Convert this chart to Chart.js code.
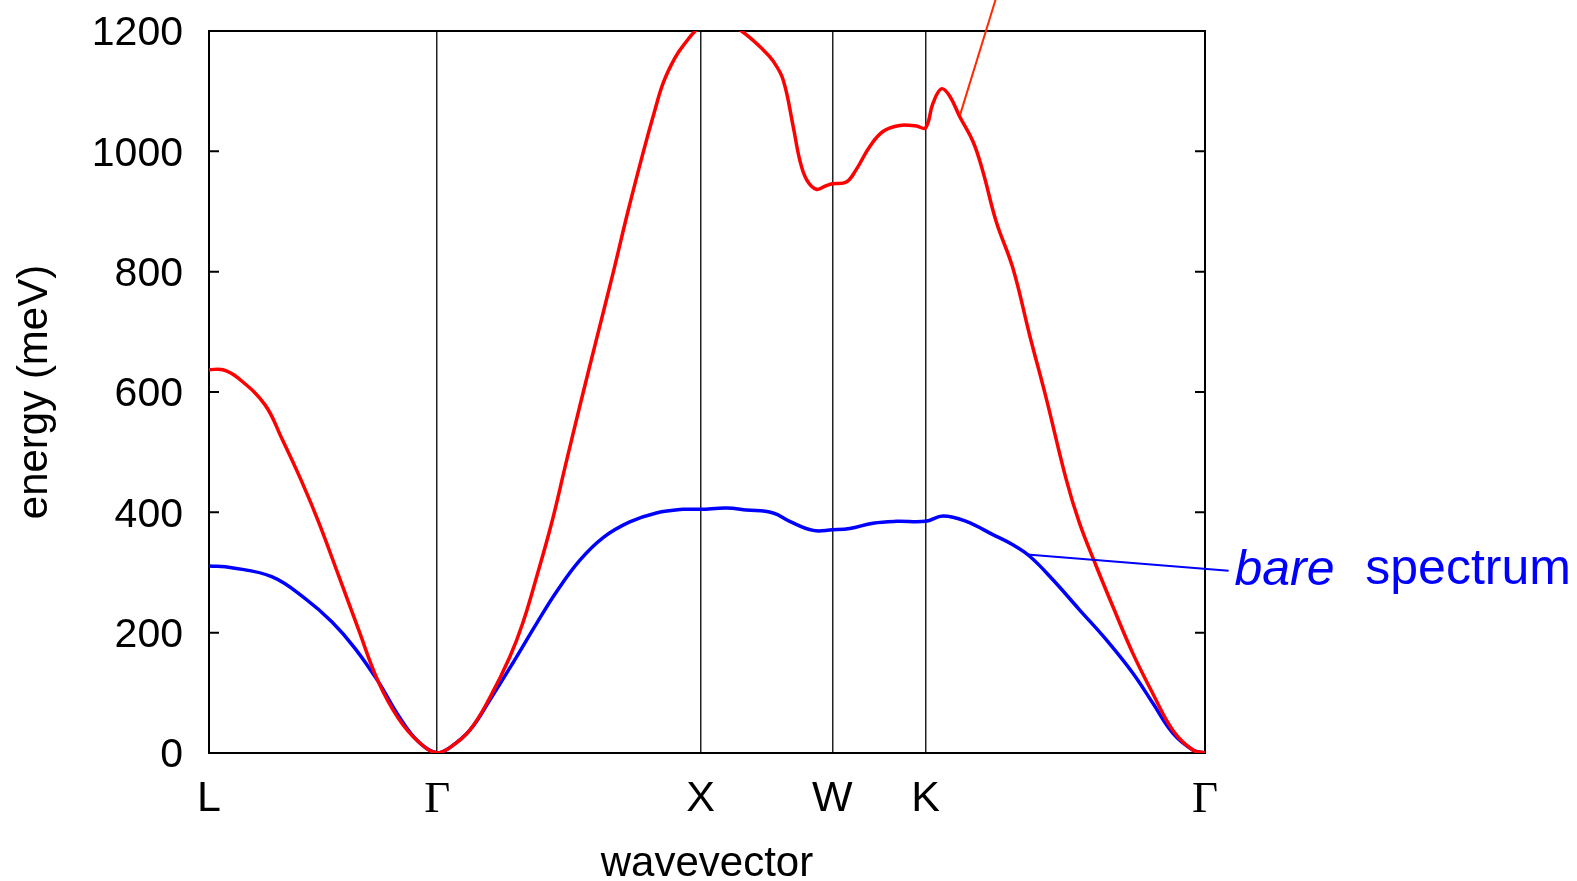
<!DOCTYPE html>
<html>
<head>
<meta charset="utf-8">
<script src="https://cdn.jsdelivr.net/npm/chart.js@4.4.1/dist/chart.umd.min.js"></script>
<style>
  html, body { margin: 0; padding: 0; background: #ffffff; }
</style>
</head>
<body>
<canvas id="myChart" width="1577" height="881"></canvas>
<script>
// symmetry points along the path (units of 2pi/a)
var kPoints = [0, 0.866, 1.866, 2.366, 2.7196, 3.7803];
var kLabels = ["L", "Γ", "X", "W", "K", "Γ"];

// renormalized spectrum (red)
var redK = [0, 0.053, 0.111, 0.212, 0.276, 0.352, 0.415, 0.491, 0.566, 0.642, 0.718, 0.794, 0.866,
  0.914, 0.990, 1.066, 1.142, 1.191, 1.245, 1.301, 1.354, 1.411, 1.472, 1.535, 1.590, 1.649, 1.692, 1.725, 1.768, 1.802, 1.866,
  1.939, 2.021, 2.103, 2.141, 2.179, 2.217, 2.242, 2.268, 2.305, 2.343, 2.366,
  2.419, 2.457, 2.508, 2.558, 2.621, 2.685, 2.7196,
  2.748, 2.780, 2.811, 2.849, 2.900, 2.937, 2.988, 3.051, 3.115, 3.178, 3.254, 3.304, 3.368, 3.431, 3.506, 3.582, 3.658, 3.734, 3.7803];
var redE = [637, 637, 623, 579, 523, 451, 385, 296, 207, 119, 58, 19, 0,
  9, 38, 92, 160, 216, 295, 383, 480, 583, 690, 800, 900, 1000, 1068, 1115, 1155, 1177, 1208,
  1220, 1200, 1169, 1150, 1119, 1042, 986, 953, 937, 943, 946,
  949, 970, 1008, 1033, 1043, 1042, 1039,
  1080, 1104, 1092, 1058, 1016, 967, 883, 806, 694, 589, 454, 382, 310, 243, 166, 99, 38, 5, 0];

// bare spectrum (blue)
var blueK = [0, 0.086, 0.238, 0.364, 0.466, 0.554, 0.642, 0.718, 0.794, 0.866,
  0.914, 0.990, 1.066, 1.154, 1.243, 1.319, 1.407, 1.496, 1.597, 1.698, 1.799, 1.866,
  1.964, 2.040, 2.141, 2.204, 2.293, 2.366, 2.432, 2.520, 2.609, 2.7196,
  2.786, 2.874, 2.975, 3.051, 3.115, 3.203, 3.304, 3.406, 3.506, 3.582, 3.658, 3.734, 3.7803];
var blueE = [311, 308, 293, 257, 218, 174, 119, 63, 19, 0,
  9, 38, 88, 150, 215, 268, 320, 358, 384, 399, 405, 405,
  407, 404, 399, 385, 370, 371, 373, 382, 385, 385,
  394, 385, 363, 346, 327, 288, 238, 188, 133, 83, 33, 5, 0];

var yMin = 0, yMax = 1200, yStep = 200;

// leader lines and label anchor, in data units
var redLeader = [[2.851, 1061], [3.005, 1280]];
var blueLeader = [[3.105, 330], [3.870, 303]];
var labelAnchor = [3.892, 303];

var sans = "Arial, 'Liberation Sans', sans-serif";
var serif = "'Times New Roman', 'Liberation Serif', serif";

function toPoints(ks, es) {
  return ks.map(function (k, i) { return { x: k, y: es[i] }; });
}

var framePlugin = {
  id: "frame",
  beforeDatasetsDraw: function (chart) {
    var ctx = chart.ctx, a = chart.chartArea, y = chart.scales.y;
    ctx.save();
    ctx.strokeStyle = "#000";
    ctx.lineWidth = 2;
    ctx.strokeRect(a.left, a.top, a.right - a.left, a.bottom - a.top);
    ctx.beginPath();
    y.ticks.forEach(function (t) {
      var py = y.getPixelForValue(t.value);
      ctx.moveTo(a.left, py); ctx.lineTo(a.left + 10, py);
      ctx.moveTo(a.right, py); ctx.lineTo(a.right - 10, py);
    });
    ctx.stroke();
    ctx.restore();
  },
  afterDatasetsDraw: function (chart) {
    var ctx = chart.ctx, x = chart.scales.x, y = chart.scales.y;
    function px(p) { return [x.getPixelForValue(p[0]), y.getPixelForValue(p[1])]; }
    ctx.save();
    ctx.lineWidth = 2;
    var r0 = px(redLeader[0]), r1 = px(redLeader[1]);
    ctx.strokeStyle = "#ff2a00";
    ctx.beginPath(); ctx.moveTo(r0[0], r0[1]); ctx.lineTo(r1[0], r1[1]); ctx.stroke();
    var b0 = px(blueLeader[0]), b1 = px(blueLeader[1]);
    ctx.strokeStyle = "#0000ff";
    ctx.beginPath(); ctx.moveTo(b0[0], b0[1]); ctx.lineTo(b1[0], b1[1]); ctx.stroke();
    // label
    var t = px(labelAnchor);
    ctx.fillStyle = "#0000ff";
    ctx.textBaseline = "middle";
    ctx.textAlign = "left";
    ctx.font = "italic 50px " + sans;
    ctx.fillText("bare", t[0], t[1]);
    var w = ctx.measureText("bare").width;
    ctx.font = "50px " + sans;
    ctx.fillText("spectrum", t[0] + w + ctx.measureText("  ").width + 3, t[1]);
    ctx.restore();
  }
};

new Chart("myChart", {
  type: "line",
  data: {
    datasets: [{
      label: "renormalized",
      data: toPoints(redK, redE),
      borderColor: "#ff0000",
      borderWidth: 3.5,
      pointRadius: 0,
      tension: 0.4,
      fill: false
    }, {
      label: "bare",
      data: toPoints(blueK, blueE),
      borderColor: "#0000ff",
      borderWidth: 3.5,
      pointRadius: 0,
      tension: 0.4,
      fill: false
    }]
  },
  options: {
    responsive: false,
    devicePixelRatio: 1,
    animation: false,
    layout: { padding: { top: 31, right: 372, left: 0, bottom: 0 } },
    plugins: {
      legend: { display: false },
      tooltip: { enabled: false }
    },
    scales: {
      x: {
        type: "linear",
        min: kPoints[0],
        max: kPoints[kPoints.length - 1],
        afterBuildTicks: function (scale) {
          scale.ticks = kPoints.map(function (v) { return { value: v }; });
        },
        afterFit: function (scale) { scale.height = 128; },
        grid: { color: "#222", lineWidth: 1.5, drawTicks: false },
        border: { display: false },
        ticks: {
          autoSkip: false,
          maxRotation: 0,
          padding: 20,
          color: "#000",
          font: function (c) {
            return c.index === 1 || c.index === 5
              ? { family: serif, size: 45 }
              : { family: sans, size: 43 };
          },
          callback: function (v, i) { return kLabels[i]; }
        },
        title: {
          display: true,
          text: "wavevector",
          color: "#000",
          font: { family: sans, size: 42, lineHeight: 0.8 },
          padding: { top: 0, bottom: 0 }
        }
      },
      y: {
        min: yMin,
        max: yMax,
        afterFit: function (scale) { scale.width = 209; },
        grid: { display: false },
        border: { display: false },
        ticks: {
          stepSize: yStep,
          padding: 18,
          labelOffset: 3,
          color: "#000",
          font: { family: sans, size: 41, lineHeight: 0.6 },
          callback: function (v) { return String(v); }
        },
        title: {
          display: true,
          text: "energy (meV)",
          color: "#000",
          font: { family: sans, size: 42, lineHeight: 1 },
          padding: { top: 14, bottom: 0 }
        }
      }
    }
  },
  plugins: [framePlugin]
});
</script>
</body>
</html>
